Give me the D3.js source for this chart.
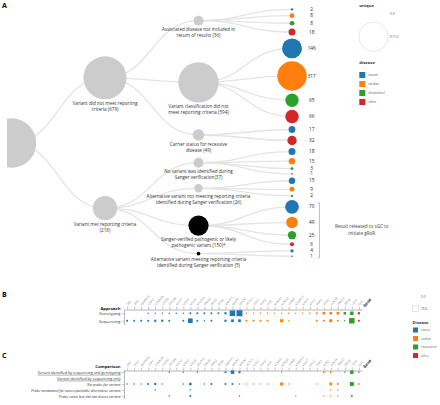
<!DOCTYPE html>
<html><head><meta charset="utf-8">
<script src="https://cdn.jsdelivr.net/npm/d3@7/dist/d3.min.js"></script>
<style>
body{margin:0;background:#fff;}
svg{display:block;}
text{font-family:"Open Sans",sans-serif;}
</style>
</head><body><svg id="c" width="440" height="405"></svg>
<script>
// ---------- DATA ----------
const diseases = ["cancer","cardiac","cholesterol","other"];
const diseaseColors = ["#1f77b4","#ff7f0e","#2ca02c","#d62728"];

// Panel A tree
const branchLabels = [["Variant did not meet reporting","criteria (679)"],["Variant met reporting criteria","(218)"]];
const outcomeLabels = [
  ["Associated disease not included in","return of results (36)"],
  ["Variant classification did not","meet reporting criteria (594)"],
  ["Carrier status for recessive","disease (49)"],
  ["No variant was identified during","Sanger verification(37)"],
  ["Alternative variant not meeting reporting criteria","identified during Sanger verification (26)"],
  ["Sanger-verified pathogenic or likely","pathogenic variant (150)*"],
  ["Alternative variant meeting reporting criteria","identified during Sanger verification (5)"]
];
const outcomeBranch = [0,0,0,1,1,1,1];
const outcomeReleased = [false,false,false,false,false,true,true];
const leafOutcome = [0,0,0,0, 1,1,1,1, 2,2, 3,3,3,3, 4,4,4, 5,5,5,5, 6,6];
const leafDisease = ["cancer","cardiac","cholesterol","other","cancer","cardiac","cholesterol","other","cancer","other","cancer","cardiac","cholesterol","other","cancer","cardiac","cholesterol","cancer","cardiac","cholesterol","other","cancer","other"];
const leafCounts = [2,8,8,18, 146,317,65,66, 17,32, 18,15,3,1, 15,9,2, 70,49,25,6, 4,1];
const uniqueLegend = [0.0, 317.0];
const releasedNote = ["Result released to sGC to","initiate gRoR"];

// Panels B and C
const genes = ["APC","ATM","BMPR1A","CDH1","CDKN2A","CHEK2","EPCAM","MLH1","MSH2","MSH6","MUTYH","PALB2","PMS2","PTEN","RAD51C","BRCA1","BRCA2",
  "ACTC1","DSC2","DSG2","DSP","KCNH2","KCNQ1","LMNA","MYBPC3","MYH7","MYL2","PKP2","RYR2","SCN5A","TNNT2",
  "APOB","LDLR","OTC"];
const geneDisease = [
  "cancer","cancer","cancer","cancer","cancer","cancer","cancer","cancer","cancer","cancer","cancer","cancer","cancer","cancer","cancer","cancer","cancer",
  "cardiac","cardiac","cardiac","cardiac","cardiac","cardiac","cardiac","cardiac","cardiac","cardiac","cardiac","cardiac","cardiac","cardiac",
  "cholesterol","cholesterol","other"];
const approachRows = ["Genotyping","Sequencing"];
const genotypingCounts = [0,0,0,1,1,1,1,1,1,2,2,2,2,2,3,20,23, 1,1,1,1,1,1,1,1,1,1,2,4,4,4, 4,8, 3];
const sequencingCounts = [2,2,2,2,3,3,2,0,2,14,2,1,2,0,3,5,5, 2,2,2,2,0,6,1,0,0,0,2,2,6,2, 1,20, 2];
const comparisonRows = ["Variant identified by sequencing and genotyping","Variant identified by sequencing only","No probe for variant","Probe annotated for non-reportable alternative variant","Probe exists but did not detect variant"];
const seqGenoCounts =        [0,0,0,0,0,0,1,0,1,0,1,0,0,0,2,8,3, 0,0,0,0,0,1,0,0,0,0,0,2,2,0, 1,8, 1];
const noProbeCounts =        [1,1,1,2,3,1,0,0,1,4,0,1,2,0,2,2,1, 1,1,1,1,0,6,1,0,0,0,1,0,5,2, 0,10, 1];
const probeAnnotatedCounts = [0,0,0,0,1,0,0,0,0,1,0,0,0,0,0,0,0, 0,0,0,0,0,0,0,0,0,0,0,0,1,1, 0,0, 0];
const probeExistsCounts =    [0,0,0,0,0,0,1,0,0,2,0,0,0,0,0,0,1, 0,0,0,0,0,0,0,1,0,0,0,1,1,1, 0,2, 0];
const sizeLegend = [0.0, 23.6];

// ---------- DRAW ----------
const svg = d3.select("#c");
const color = d3.scaleOrdinal().domain(diseases).range(diseaseColors);

// ===== Panel A =====
svg.append("text").attr("x",2).attr("y",8).attr("font-size",7).attr("font-weight","bold").text("A");
svg.append("defs").append("clipPath").attr("id","clipA")
  .append("rect").attr("x",7).attr("y",0).attr("width",433).attr("height",285);
const gA = svg.append("g");
const gAc = gA.append("g").attr("clip-path","url(#clipA)");

const treeData = {children: branchLabels.map((l,i)=>({label:l, children:[]}))};
const outcomeNodes = outcomeLabels.map((l,j)=>{
  const n = {label:l, released:outcomeReleased[j], children:[]};
  treeData.children[outcomeBranch[j]].children.push(n);
  return n;
});
leafCounts.forEach((c,k)=>{
  outcomeNodes[leafOutcome[k]].children.push({count:c, disease:leafDisease[k], released:outcomeReleased[leafOutcome[k]]});
});
const root = d3.hierarchy(treeData).sum(d => d.children ? 0 : d.count);
const rScale = d3.scaleSqrt().domain([0,317]).range([0,14.7]);
const xDepth = d3.scaleLinear().domain([0,3]).range([11.5,292]);
const leafGap = 2.9;
const leaves = root.leaves();
let yy = 9.3;
leaves.forEach((l,i)=>{
  if(i>0) yy += rScale(leaves[i-1].value) + rScale(l.value) + leafGap;
  l.y = yy;
});
root.eachAfter(n=>{
  n.x = xDepth(n.depth);
  if(n.children) n.y = (n.children[0].y + n.children[n.children.length-1].y)/2;
});

const link = d3.linkHorizontal().x(d=>d.x).y(d=>d.y);
gAc.append("g").selectAll("path").data(root.links()).join("path")
  .attr("d", link).attr("fill","none").attr("stroke","#e4e4e4").attr("stroke-width",1.3);

gAc.append("g").selectAll("circle").data(root.descendants()).join("circle")
  .attr("cx",d=>d.x).attr("cy",d=>d.y).attr("r",d=>rScale(d.value))
  .attr("fill",d=>{
    if(d.depth===3) return color(d.data.disease);
    if(d.depth===2 && d.data.released) return "#000";
    return "#cccccc";
  });

// labels for internal nodes
const lab = gA.append("g").attr("font-size",4.6).attr("fill","#333").attr("text-anchor","middle");
root.descendants().filter(d=>d.depth===1||d.depth===2).forEach(d=>{
  const t = lab.append("text").attr("x",d.x).attr("y",d.y + rScale(d.value) + 5.2);
  d.data.label.forEach((line,i)=>{
    t.append("tspan").attr("x",d.x).attr("dy", i===0?0:6).text(line);
  });
});
// leaf values
gA.append("g").attr("font-size",4.7).attr("fill","#222").attr("text-anchor","middle")
  .selectAll("text").data(leaves).join("text")
  .attr("x",d=>d.x+19.7).attr("y",d=>d.y+1.6).text(d=>d.value);

// bracket for released
const rel = leaves.filter(d=>d.data.released);
const bTop = rel[0].y - 4, bBot = rel[rel.length-1].y + 1.5, bx = 319.5;
gA.append("path").attr("d",`M${bx-2},${bTop}H${bx}V${bBot}H${bx-2}`).attr("fill","none").attr("stroke","#999").attr("stroke-width",0.6);
const nt = gA.append("text").attr("font-size",4.6).attr("fill","#444").attr("text-anchor","middle")
  .attr("x",361.7).attr("y",(bTop+bBot)/2 - 2);
releasedNote.forEach((s,i)=>nt.append("tspan").attr("x",361.7).attr("dy",i?6.3:0).text(s));

// legends A
const lgA = gA.append("g");
lgA.append("text").attr("x",359.3).attr("y",6.5).attr("font-size",4.2).attr("font-weight","bold").attr("fill","#333").text("unique");
const uScale = d3.scalePoint().domain(uniqueLegend).range([14.3, 36.7]);
uniqueLegend.forEach(v=>{
  lgA.append("circle").attr("cx",373.5).attr("cy",uScale(v)).attr("r",rScale(v))
    .attr("fill","none").attr("stroke","#ddd").attr("stroke-width",0.7);
  lgA.append("text").attr("x",390).attr("y",uScale(v)+1.1).attr("font-size",3.3).attr("fill","#555").text(v.toFixed(1));
});
lgA.append("text").attr("x",359.3).attr("y",64).attr("font-size",4.2).attr("font-weight","bold").attr("fill","#333").text("disease");
const dY = d3.scalePoint().domain(diseases).range([75,102]);
diseases.forEach(d=>{
  lgA.append("rect").attr("x",359.3).attr("y",dY(d)-3).attr("width",6).attr("height",6).attr("fill",color(d));
  lgA.append("text").attr("x",368.3).attr("y",dY(d)+1.1).attr("font-size",3.2).attr("fill","#555").text(d);
});

// ===== Panels B & C =====
const x = d3.scalePoint().domain(genes).range([124,362]).padding(0.45);
const side = d3.scaleSqrt().domain([0,23.6]).range([0,6]);

function topAxis(g, yAxis){
  const ax = g.append("g").attr("transform",`translate(0,${yAxis})`)
    .call(d3.axisTop(x).tickSize(3).tickSizeOuter(0));
  ax.select(".domain").attr("stroke","#888").attr("stroke-width",0.6);
  ax.selectAll(".tick line").attr("stroke","#888").attr("stroke-width",0.5);
  ax.selectAll(".tick text").attr("x",0).attr("y",0).attr("dy",0)
    .attr("text-anchor","start").attr("font-size",3).attr("fill","#888")
    .attr("font-family","Open Sans, sans-serif")
    .attr("transform","translate(0.5,-4) rotate(-50)");
  g.append("text").attr("transform",`translate(${x.range()[1]+3},${yAxis-2}) rotate(-50)`)
    .attr("font-size",4).attr("font-weight","bold").attr("fill","#222").text("Gene");
}
function leftAxis(g, yScale, title, yAxis, styler){
  const ax = g.append("g").attr("transform",`translate(${x.range()[0]},0)`)
    .call(d3.axisLeft(yScale).tickSize(2).tickPadding(1.5).tickSizeOuter(0));
  ax.select(".domain").attr("stroke","#888").attr("stroke-width",0.6);
  ax.selectAll(".tick line").attr("stroke","#888").attr("stroke-width",0.5);
  ax.selectAll(".tick text").attr("font-family","Open Sans, sans-serif").attr("fill","#333");
  if(styler) styler(ax);
  g.append("text").attr("x",x.range()[0]-3.5).attr("y",yAxis+0.5).attr("text-anchor","end")
    .attr("font-size",4.2).attr("font-weight","bold").attr("fill","#111").text(title);
}
function squares(g, yScale, row, counts){
  g.append("g").selectAll("rect").data(genes.map((gn,i)=>({gene:gn, v:counts[i], d:geneDisease[i]})).filter(d=>d.v>0))
    .join("rect")
    .attr("x",d=>x(d.gene)-side(d.v)/2).attr("y",d=>yScale(row)-side(d.v)/2)
    .attr("width",d=>side(d.v)).attr("height",d=>side(d.v)).attr("fill",d=>color(d.d));
}

// Panel B
const gB = svg.append("g");
gB.append("text").attr("x",2).attr("y",297).attr("font-size",7).attr("font-weight","bold").text("B");
const yB0 = 309.5;
const yB = d3.scalePoint().domain(approachRows).range([yB0, yB0+15]).padding(0.5);
topAxis(gB, yB0);
leftAxis(gB, yB, "Approach", yB0, ax=>ax.selectAll(".tick text").attr("font-size",4));
squares(gB, yB, "Genotyping", genotypingCounts);
squares(gB, yB, "Sequencing", sequencingCounts);

// Panel C
const gC = svg.append("g");
gC.append("text").attr("x",2).attr("y",358).attr("font-size",7).attr("font-weight","bold").text("C");
const yC0 = 370.5;
const yC = d3.scalePoint().domain(comparisonRows).range([yC0-1, yC0+28]).padding(0.45);
topAxis(gC, yC0);
leftAxis(gC, yC, "Comparison", yC0-3.5, ax=>{
  ax.selectAll(".tick text").attr("font-size",3.7)
    .attr("text-decoration",(d,i)=>i<2?"underline":null)
    .attr("font-style",(d,i)=>i<2?null:"italic");
  ax.selectAll(".tick").filter(d=>d===comparisonRows[1]).select("line").remove();
});
squares(gC, yC, comparisonRows[0], seqGenoCounts);
squares(gC, yC, comparisonRows[2], noProbeCounts);
squares(gC, yC, comparisonRows[3], probeAnnotatedCounts);
squares(gC, yC, comparisonRows[4], probeExistsCounts);

// Legends B/C
const lgB = svg.append("g");
const sY = d3.scalePoint().domain(sizeLegend).range([296.7, 308.5]);
sizeLegend.forEach(v=>{
  lgB.append("rect").attr("x",415.5-side(v)/2).attr("y",sY(v)-side(v)/2).attr("width",side(v)).attr("height",side(v))
    .attr("fill","none").attr("stroke","#ccc").attr("stroke-width",0.5);
  lgB.append("text").attr("x",421).attr("y",sY(v)+1).attr("font-size",3.2).attr("fill","#555").text(v.toFixed(1));
});
lgB.append("text").attr("x",412.5).attr("y",323.5).attr("font-size",4.2).attr("font-weight","bold").attr("fill","#333").text("Disease");
const dY2 = d3.scalePoint().domain(diseases).range([330,355.5]);
diseases.forEach(d=>{
  lgB.append("rect").attr("x",413).attr("y",dY2(d)-2.5).attr("width",5).attr("height",5).attr("fill",color(d));
  lgB.append("text").attr("x",421).attr("y",dY2(d)+1).attr("font-size",3).attr("fill","#555").text(d);
});
</script>
</body></html>
